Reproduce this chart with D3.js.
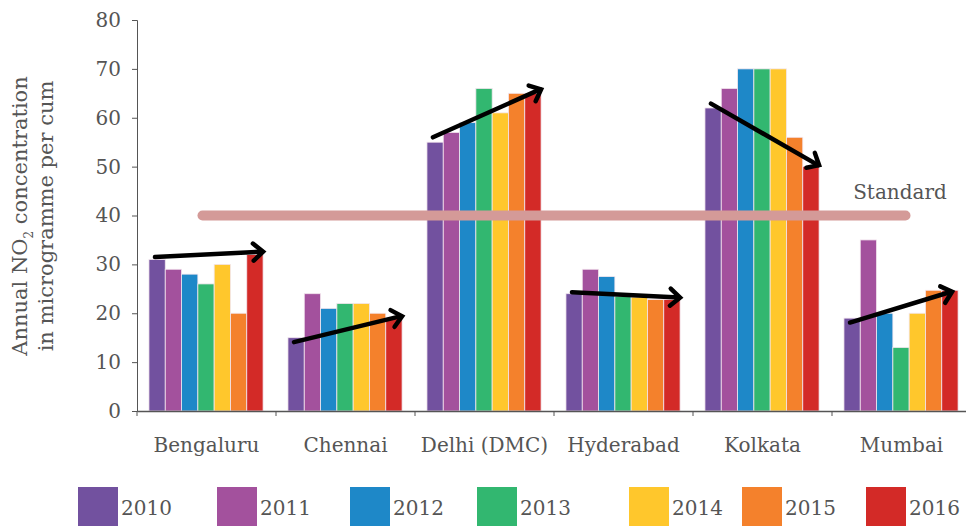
<!DOCTYPE html>
<html><head><meta charset="utf-8">
<script src="https://cdn.jsdelivr.net/npm/d3@7"></script>
<style>body{margin:0;background:#fff}svg{display:block}text{font-family:"DejaVu Serif","Liberation Serif",serif;fill:#555}</style>
</head><body><svg id="c" width="966" height="526"></svg>
<script>
const cities = ["Bengaluru","Chennai","Delhi (DMC)","Hyderabad","Kolkata","Mumbai"];
const years = ["2010","2011","2012","2013","2014","2015","2016"];
const y2010 = [31, 15, 55, 24, 62, 19];
const y2011 = [29, 24, 57, 29, 66, 35];
const y2012 = [28, 21, 59, 27.5, 70, 20];
const y2013 = [26, 22, 66, 23.5, 70, 13];
const y2014 = [30, 22, 61, 23.3, 70, 20];
const y2015 = [20, 20, 65, 22.8, 56, 24.7];
const y2016 = [32, 19, 65, 22.8, 50, 24.7];
const arrowFrom = [31.5, 14.1, 56, 24.3, 62.9, 18.1];
const arrowTo = [32.6, 19.4, 65.8, 23.2, 50.3, 24.4];
const standard = 40;
const yTicks = [0,10,20,30,40,50,60,70,80];
const colors = ["#72519f","#a3519d","#1e88c8","#32b770","#ffc72c","#f4812c","#d32a27"];
const series = [y2010,y2011,y2012,y2013,y2014,y2015,y2016];

const svg = d3.select("#c");
const x = d3.scaleBand().domain(cities).range([137, 971]).padding(0);
const y = d3.scaleLinear().domain([0,80]).range([411, 20]);
const bw = x.bandwidth();
const x1 = d3.scaleBand().domain(years).range([bw*0.086, bw*0.907]).padding(0);

// bars
cities.forEach((c,i)=>{
  const g = svg.append("g").attr("transform",`translate(${x(c)},0)`);
  years.forEach((yr,j)=>{
    const v = series[j][i];
    g.append("rect").attr("x",x1(yr)).attr("width",x1.bandwidth())
      .attr("y",y(v)).attr("height",y(0)-y(v))
      .attr("fill",colors[j]).attr("stroke","#f3e6ee").attr("stroke-width",0.8);
  });
});

// axes
const yAx = svg.append("g").attr("transform","translate(137,0)")
  .call(d3.axisLeft(y).tickValues(yTicks).tickSize(5).tickPadding(11));
yAx.selectAll("text").style("font-size","20px").attr("fill","#555").attr("font-weight",300);
yAx.select(".domain").attr("stroke","#555");
yAx.selectAll(".tick line").attr("stroke","#555");
const xAx = svg.append("g").attr("transform","translate(0,411)")
  .call(d3.axisBottom(x).tickSize(0).tickPadding(27));
xAx.select(".domain").attr("stroke","#555").attr("stroke-width",1.5);
xAx.selectAll("text").style("font-size","20px").attr("fill","#555");
const bounds = cities.map(c=>x(c));
svg.append("g").selectAll("line").data(bounds).join("line")
  .attr("x1",d=>d).attr("x2",d=>d).attr("y1",411).attr("y2",416).attr("stroke","#555");

// standard line
svg.append("line").attr("x1",x(cities[0])+bw/2-4).attr("x2",x(cities[5])+bw/2+4)
  .attr("y1",y(standard)).attr("y2",y(standard))
  .attr("stroke","#d49a98").attr("stroke-width",10).attr("stroke-linecap","round");
svg.append("text").attr("x",900).attr("y",y(standard)-17).attr("text-anchor","middle")
  .style("font-size","20px").text("Standard");

// arrows
cities.forEach((c,i)=>{
  const xs = x(c)+x1("2010")+6, xe = x(c)+x1("2016")+x1.bandwidth()-(i===5?6:0);
  const ys = y(arrowFrom[i]), ye = y(arrowTo[i]);
  const ang = Math.atan2(ye-ys, xe-xs);
  const g = svg.append("g").attr("stroke","#000").attr("stroke-width",4.5).attr("fill","none").attr("stroke-linecap","round");
  g.append("line").attr("x1",xs).attr("y1",ys).attr("x2",xe-1).attr("y2",ye);
  const L=13, a=0.72;
  g.append("path").attr("stroke-linejoin","miter").attr("d",
    `M${xe-L*Math.cos(ang-a)},${ye-L*Math.sin(ang-a)}L${xe},${ye}L${xe-L*Math.cos(ang+a)},${ye-L*Math.sin(ang+a)}`);
});

// y title
const t = svg.append("text").attr("transform","translate(27,216) rotate(-90)").attr("text-anchor","middle")
  .style("font-size","21px");
t.append("tspan").text("Annual NO");
t.append("tspan").text("2").style("font-size","12px").attr("dy",6);
t.append("tspan").text(" concentration").attr("dy",-6);
svg.append("text").attr("transform","translate(53,216) rotate(-90)").attr("text-anchor","middle")
  .style("font-size","21px").text("in microgramme per cum");

// legend
const legendX = [78, 217, 350, 477, 629, 742, 866];
years.forEach((yr,j)=>{
  svg.append("rect").attr("x",legendX[j]).attr("y",487).attr("width",40).attr("height",40).attr("fill",colors[j]);
  svg.append("text").attr("x",legendX[j]+43).attr("y",515).style("font-size","20px").text(yr);
});
</script></body></html>
